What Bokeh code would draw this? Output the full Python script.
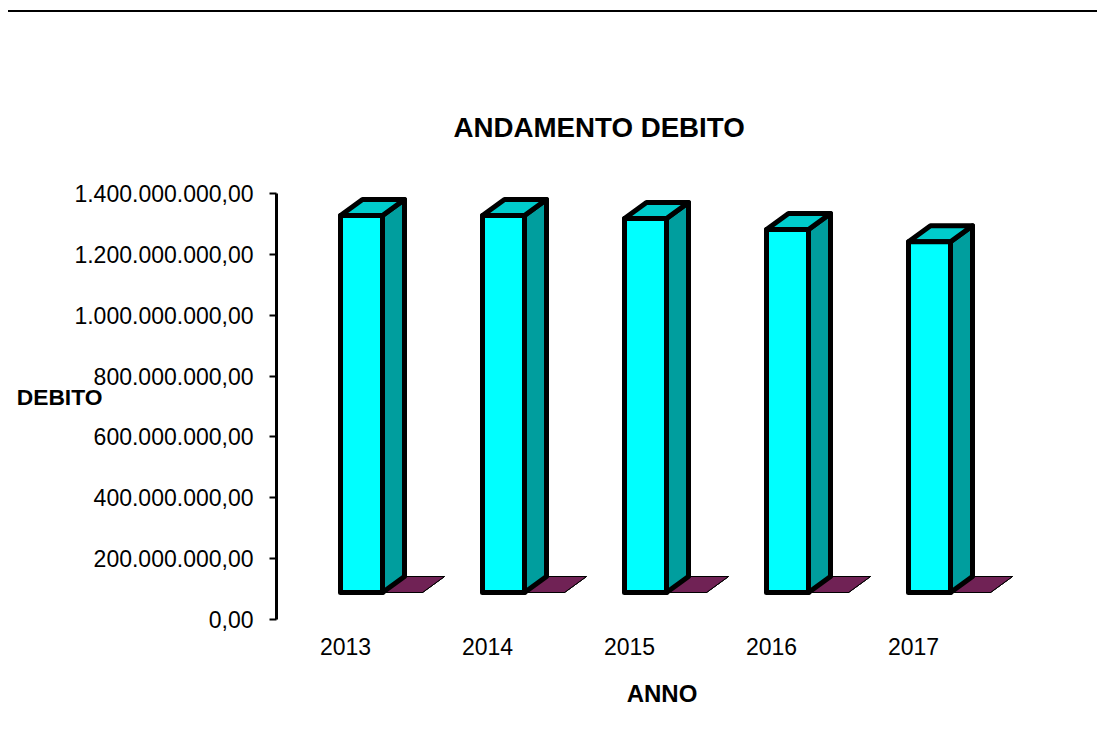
from bokeh.plotting import figure
from bokeh.models import FixedTicker, Div, Title
from bokeh.layouts import column
from bokeh.embed import file_html
from bokeh.resources import INLINE

# ---- data ----
years = ["2013", "2014", "2015", "2016", "2017"]
debito = [1.239e9, 1.239e9, 1.229e9, 1.193e9, 1.153e9]
serie2 = [0, 0, 0, 0, 0]
y_ticks = [0, 2e8, 4e8, 6e8, 8e8, 1.0e9, 1.2e9, 1.4e9]
title_text = "ANDAMENTO DEBITO"
y_title = "DEBITO"
x_title = "ANNO"


def it_fmt(v):
    return f"{v:,.2f}".replace(",", "X").replace(".", ",").replace("X", ".")


# ---- layout (page pixels) ----
LINE_TOP, LINE_H, LINE_LEFT = 10, 2, 8
FIG_TOP = LINE_TOP + LINE_H
W, H = 1097, 720
FRAME_L, FRAME_R, FRAME_T, FRAME_B = 276, 1047, 167, 625
ZERO_PX, TOP_PX = 619, 193
k = (ZERO_PX - TOP_PX) / y_ticks[-1]       # px per value unit
CAT0_PX, CAT_STEP = 345, 142                # px of first category, px per category

y_start = -(FRAME_B - ZERO_PX) / k
y_end = (ZERO_PX - FRAME_T) / k
x_start = -(CAT0_PX - FRAME_L) / CAT_STEP
x_end = (FRAME_R - CAT0_PX) / CAT_STEP


def px_x(p):
    return p / CAT_STEP


def px_y(p):
    return p / k


FONT = "Liberation Sans"

p = figure(width=W, height=H, x_range=(x_start, x_end), y_range=(y_start, y_end),
           output_backend="svg", toolbar_location=None,
           min_border_left=FRAME_L, min_border_right=W - FRAME_R,
           min_border_top=FRAME_T - FIG_TOP,
           min_border_bottom=H - (FRAME_B - FIG_TOP))
p.outline_line_color = None
p.grid.visible = False
p.background_fill_color = "white"
p.border_fill_color = "white"

p.title = Title(text=title_text, align="left", offset=453 - FRAME_L,
                text_font=FONT, text_font_size="27.7px", text_font_style="bold",
                text_color="black", standoff=49)

# y axis
ya = p.yaxis[0]
ya.ticker = FixedTicker(ticks=y_ticks)
ya.bounds = (y_ticks[0], y_ticks[-1])
ya.major_label_overrides = {int(t): it_fmt(t) for t in y_ticks}
ya.axis_line_width = 3
ya.axis_line_color = "black"
ya.major_tick_line_width = 2
ya.major_tick_out = 7
ya.major_tick_in = 0
ya.minor_tick_line_color = None
ya.major_label_standoff = 16
ya.major_label_text_font = FONT
ya.major_label_text_font_size = "23px"
ya.major_label_text_color = "black"
ya.axis_label = y_title
ya.axis_label_orientation = "horizontal"
ya.axis_label_standoff = -31
ya.axis_label_text_font = FONT
ya.axis_label_text_font_size = "22.8px"
ya.axis_label_text_font_style = "bold"
ya.axis_label_text_color = "black"

# x axis
xa = p.xaxis[0]
xa.ticker = FixedTicker(ticks=list(range(len(years))))
xa.major_label_overrides = {i: y for i, y in enumerate(years)}
xa.axis_line_color = None
xa.major_tick_line_color = None
xa.minor_tick_line_color = None
xa.major_tick_out = 0
xa.major_tick_in = 0
xa.major_label_standoff = 12
xa.major_label_text_font = FONT
xa.major_label_text_font_size = "23px"
xa.major_label_text_color = "black"
xa.axis_label = x_title
xa.axis_label_standoff = 22
xa.axis_label_text_font = FONT
xa.axis_label_text_font_size = "24px"
xa.axis_label_text_font_style = "bold"
xa.axis_label_text_color = "black"

# ---- 3D bar geometry (style offsets, px) ----
DX, DY = px_x(22), px_y(16)
FLOOR = px_y(27)
B1_L, B1_R = px_x(-5), px_x(37)
B2_L, B2_R = px_x(37), px_x(77)

# series 2 (zero values) - drawn first (behind)
s2_l, s2_r, s2_b, s2_t = [], [], [], []
s2_top_xs, s2_top_ys, s2_side_xs, s2_side_ys = [], [], [], []
for i, v in enumerate(serie2):
    L, R = i + B2_L, i + B2_R
    B, T = FLOOR, FLOOR + v
    s2_top_xs.append([L, L + DX, R + DX, R])
    s2_top_ys.append([T, T + DY, T + DY, T])
    s2_side_xs.append([R, R + DX, R + DX, R])
    s2_side_ys.append([B, B + DY, T + DY, T])
    s2_l.append(L); s2_r.append(R); s2_b.append(B); s2_t.append(T)

p.patches(s2_side_xs, s2_side_ys, fill_color="#5a1a44", line_color="black", line_width=1)
p.patches(s2_top_xs, s2_top_ys, fill_color="#702255", line_color="black", line_width=1)
p.quad(left=s2_l, right=s2_r, bottom=s2_b, top=s2_t,
       fill_color="#993366", line_color="black", line_width=1)

# series 1 (DEBITO)
f_l, f_r, f_b, f_t = [], [], [], []
t_xs, t_ys, sd_xs, sd_ys = [], [], [], []
for i, v in enumerate(debito):
    L, R = i + B1_L, i + B1_R
    B, T = FLOOR, FLOOR + v
    f_l.append(L); f_r.append(R); f_b.append(B); f_t.append(T)
    t_xs.append([L, L + DX, R + DX, R])
    t_ys.append([T, T + DY, T + DY, T])
    sd_xs.append([R, R + DX, R + DX, R])
    sd_ys.append([B, B + DY, T + DY, T])

p.patches(sd_xs, sd_ys, fill_color="#009e9e", line_color="black", line_width=5,
          line_join="round")
p.patches(t_xs, t_ys, fill_color="#00cccc", line_color="black", line_width=5,
          line_join="round")
p.quad(left=f_l, right=f_r, bottom=f_b, top=f_t, fill_color="#00ffff",
       line_color="black", line_width=5, line_join="round")

top_line = Div(text="", width=W - LINE_LEFT, height=LINE_H,
               margin=(LINE_TOP, 0, 0, LINE_LEFT),
               styles={"background-color": "black"})

layout = column(top_line, p, spacing=0)
open("out.html", "w").write(file_html(layout, INLINE))
